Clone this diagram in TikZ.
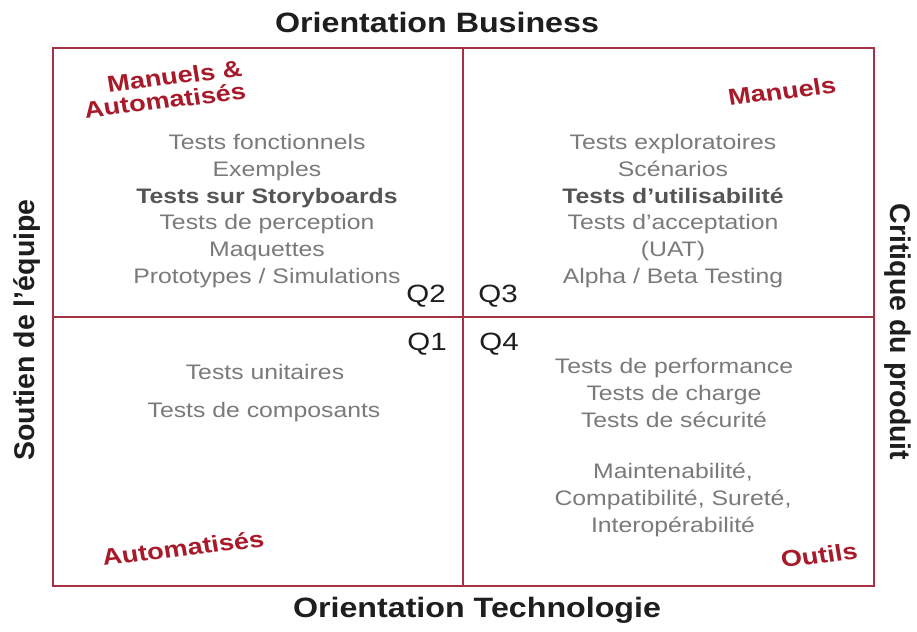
\documentclass[tikz,border=0pt]{standalone}
\usepackage{fontspec}
\setmainfont{Liberation Sans}
\definecolor{framecol}{RGB}{165,50,66}
\definecolor{redlab}{RGB}{168,26,42}
\definecolor{graytxt}{RGB}{122,122,122}
\definecolor{darkgraytxt}{RGB}{85,85,85}
\definecolor{blacktxt}{RGB}{30,30,30}
\begin{document}
\begin{tikzpicture}[x=1pt,y=-1pt,
  gridline/.style={draw=framecol, line width=1.8pt},
  axistitle/.style={font=\bfseries\fontsize{28}{30}\selectfont, text=blacktxt, xscale=1.15, inner sep=0pt},
  sidetitle/.style={font=\bfseries\fontsize{28.5}{30}\selectfont, text=blacktxt, inner sep=0pt},
  quadlab/.style={font=\bfseries\fontsize{23}{23}\selectfont, text=redlab, xscale=1.18, rotate=8, inner sep=0pt},
  itemtext/.style={font=\fontsize{21}{26.8}\selectfont, text=graytxt, align=center, xscale=1.18, inner sep=0pt},
  qlab/.style={font=\fontsize{25}{28}\selectfont, text=blacktxt, xscale=1.18, inner sep=0pt}]
\useasboundingbox (0,0) rectangle (917,631);
\fill[white] (0,0) rectangle (917,631);
% frame
\coordinate (tl) at (53,48);
\coordinate (tr) at (874,48);
\coordinate (bl) at (53,586);
\coordinate (br) at (874,586);
\coordinate (tm) at (463,48);
\coordinate (bm) at (463,586);
\coordinate (lm) at (53,317);
\coordinate (rm) at (874,317);
\draw[gridline] (tl) -- (tr) -- (br) -- (bl) -- cycle;
\draw[gridline] (tm) -- (bm);
\draw[gridline] (lm) -- (rm);
% axis titles
\node[axistitle] (tbiz) at (437,22) {Orientation Business};
\node[axistitle] (ttech) at (477,610) {Orientation Technologie};
\node[sidetitle, rotate=90] (tsout) at (27,330) {Soutien de l'équipe};
\node[sidetitle, rotate=-90] (tcrit) at (898,332) {Critique du produit};
% quadrant labels
\node[qlab] (q2) at (426,296) {Q2};
\node[qlab] (q3) at (498,296) {Q3};
\node[qlab] (q1) at (427,344) {Q1};
\node[qlab] (q4) at (499,344) {Q4};
% red labels
\node[quadlab, align=right] (ma) at (163,89) {Manuels \&\\Automatisés};
\node[quadlab] (man) at (782,91) {Manuels};
\node[quadlab] (aut) at (183,548) {Automatisés};
\node[quadlab] (out) at (819,555) {Outils};
% items
\node[itemtext] (i2) at (267,211) {Tests fonctionnels\\Exemples\\\textcolor{darkgraytxt}{\bfseries Tests sur Storyboards}\\Tests de perception\\Maquettes\\Prototypes / Simulations};
\node[itemtext] (i3) at (673,211) {Tests exploratoires\\Scénarios\\\textcolor{darkgraytxt}{\bfseries Tests d'utilisabilité}\\Tests d'acceptation\\(UAT)\\Alpha / Beta Testing};
\node[itemtext] (i1a) at (265,372) {Tests unitaires};
\node[itemtext] (i1b) at (264,412) {Tests de composants};
\node[itemtext] (i4a) at (674,393) {Tests de performance\\Tests de charge\\Tests de sécurité};
\node[itemtext] (i4b) at (673,500) {Maintenabilité,\\Compatibilité, Sureté,\\Interopérabilité};
\end{tikzpicture}
\end{document}
